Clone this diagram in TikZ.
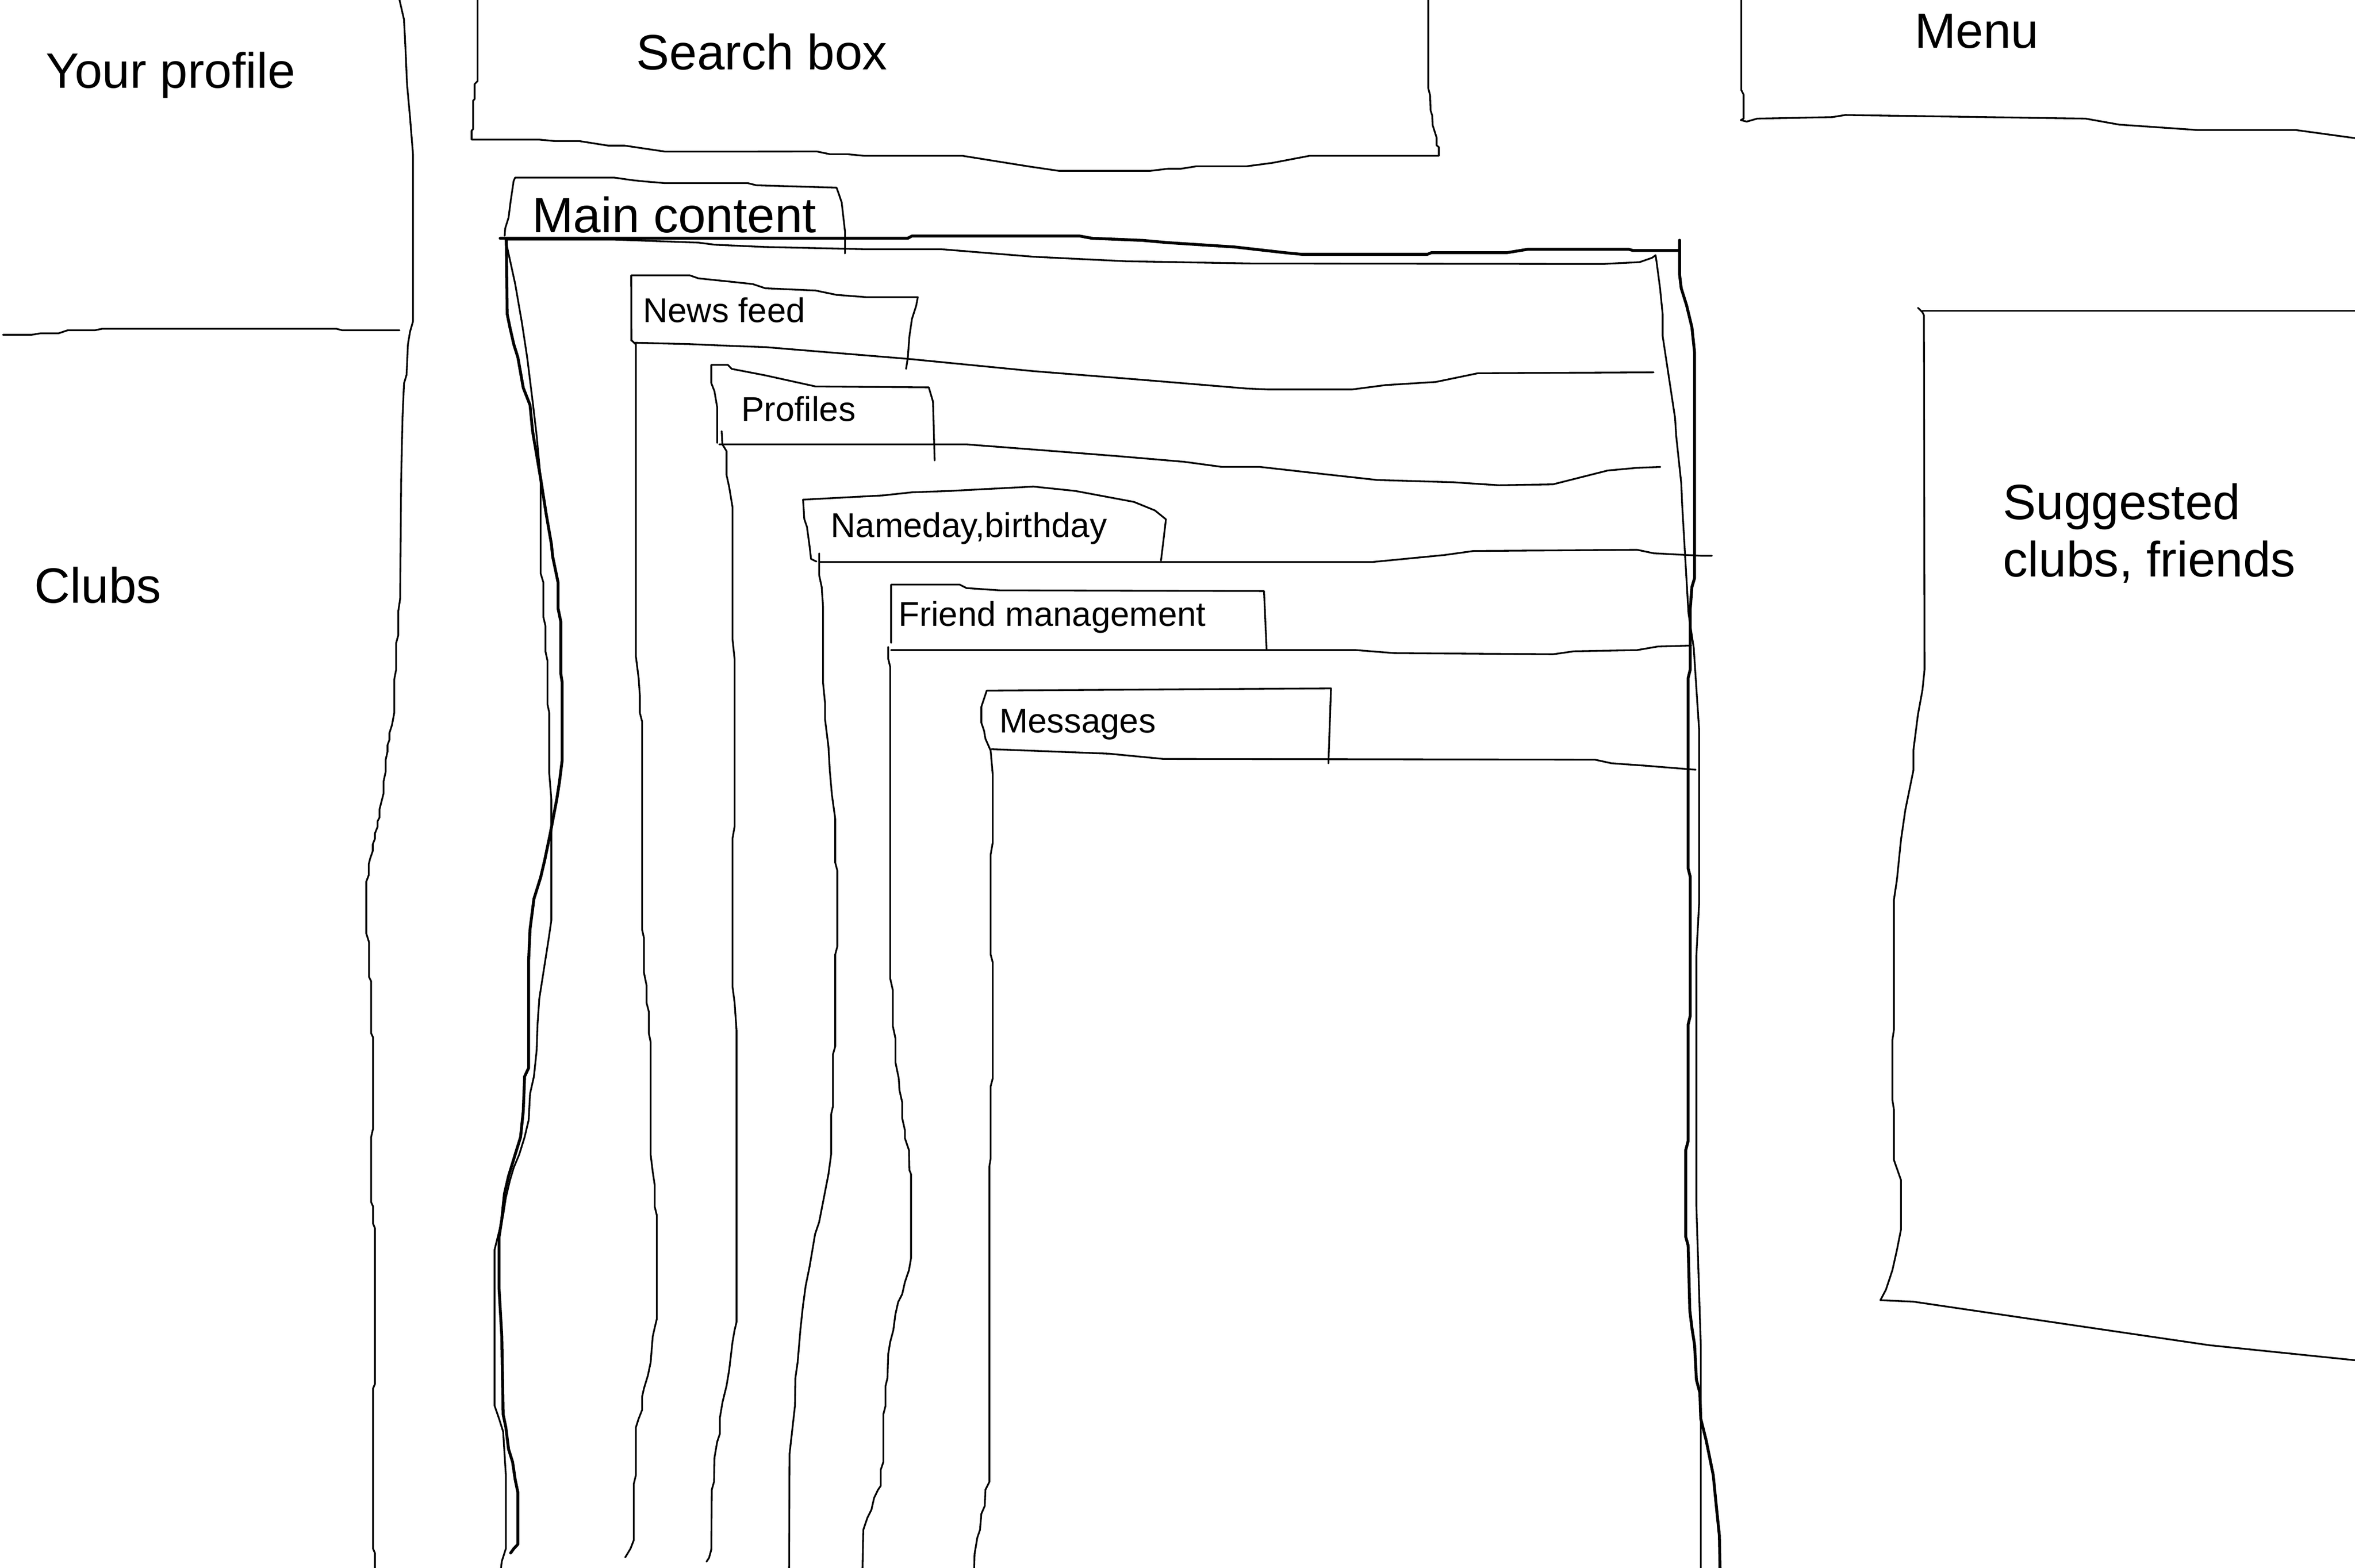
\documentclass[tikz,border=0pt]{standalone}
\usepackage{fontspec}
\setmainfont{Liberation Sans}
\newcommand\bigtxt{\fontsize{9.4}{10.8}\selectfont}
\newcommand\smalltxt{\fontsize{6.5}{7.8}\selectfont}
\begin{document}
\begin{tikzpicture}[x=0.01cm,y=-0.01cm,
  thinline/.style={line width=0.33pt,line join=round,line cap=round},
  thickline/.style={line width=0.55pt,line join=round,line cap=round},
  biglabel/.style={anchor=base west,inner sep=0pt,font=\bigtxt},
  smalllabel/.style={anchor=base west,inner sep=0pt,font=\smalltxt}]
\useasboundingbox (0,0) rectangle (1568,1044.4);

% ---------- Your profile / Clubs column ----------
\draw[thinline] (266,0) -- (269,13) -- (270,33) -- (271,56) -- (273,78) -- (275,103) -- (275,214) -- (273,221) -- (271.6,229.4) -- (270.7,249.6) -- (269,255.4) -- (268,278.5) -- (267.1,318.9) -- (266.4,399) -- (265.2,407) -- (265.2,423) -- (263.75,428.4) -- (263.75,446) -- (262.5,452.5) -- (262.5,474.8) -- (261,482.9) -- (259.3,488.2) -- (259.3,492.7) -- (258,496.3) -- (258,500.7) -- (256.8,506) -- (256.8,514) -- (255.4,520.4) -- (255.4,528.4) -- (252.7,539) -- (252.7,544.5) -- (251.4,547) -- (251.4,550.7) -- (249.6,555.2) -- (249.6,558.75) -- (248.2,562.3) -- (248.2,566.8) -- (246.4,572) -- (245.5,575.7) -- (245.5,582.9) -- (243.9,587.2) -- (243.9,621.8) -- (245.7,627.6) -- (245.7,650.7) -- (247.1,653.6) -- (247.1,688.2) -- (248.4,691) -- (248.4,751.7) -- (247.1,757.4) -- (247.1,800.7) -- (248.4,803.6) -- (248.4,815) -- (249.6,818) -- (249.6,921.9) -- (248.4,924.8) -- (248.4,1031.5) -- (249.6,1034.4) -- (249.6,1044.4);
\draw[thinline] (2,223) -- (21,223) -- (27,222) -- (39,222) -- (45,220) -- (63,220) -- (68,219) -- (224,219) -- (228,220) -- (266,220);

% ---------- Search box ----------
\draw[thinline] (318,0) -- (318,54) -- (316,56) -- (316,66) -- (315,67) -- (315,86) -- (314,87) -- (314,93) -- (359,93) -- (370,94) -- (386,94) -- (405,97) -- (416,97) -- (443,101) -- (543.9,100.9) -- (552.6,102.7) -- (564.2,102.7) -- (575.8,103.8) -- (641,103.8) -- (684.6,110.8) -- (705,113.8) -- (765.9,113.8) -- (777.5,112.4) -- (786.2,112.4) -- (796.3,110.8) -- (829.7,110.8) -- (847.1,108.5) -- (871.8,103.8) -- (958,103.8) -- (958,98) -- (956.5,96.8) -- (956.5,91.6) -- (953.9,83.4) -- (953.6,77) -- (952.5,73.5) -- (952.2,63.6) -- (951,58.9) -- (951,0);

% ---------- Menu ----------
\draw[thinline] (1159.4,0) -- (1159.4,60) -- (1160.9,63) -- (1160.9,79) -- (1159,80) -- (1163,81) -- (1170,79) -- (1220,78) -- (1228.6,76.6) -- (1388.6,79) -- (1411,83) -- (1463,86.6) -- (1528.6,86.6) -- (1568,92);

% ---------- Suggested clubs, friends ----------
\draw[thinline] (1277,205) -- (1280,208) -- (1281,210) -- (1281.4,446) -- (1280,459.6) -- (1277,476) -- (1274,499.5) -- (1274,513) -- (1268.6,539.5) -- (1265.7,559.5) -- (1263,586) -- (1261,599.4) -- (1261,686) -- (1260,692.7) -- (1260,732.6) -- (1261,739) -- (1261,772.6) -- (1265.7,786) -- (1265.7,819) -- (1263,832.6) -- (1260,846) -- (1255.7,859) -- (1252,866) -- (1274,867) -- (1403,886) -- (1471,896) -- (1568,906);
\draw[thinline] (1280,207) -- (1568,207);

% ---------- Main content ----------
% tab
\draw[thinline] (336,157) -- (336.4,152) -- (338.6,145) -- (340,134) -- (342,120.5) -- (343,118.3) -- (409,118.3) -- (421,120) -- (428.6,120.8) -- (443,122) -- (498,122) -- (503.6,123.4) -- (557,125) -- (558.4,128.9) -- (560.4,134.8) -- (562.6,154) -- (562.6,168.8);
% thick top line
\draw[thickline] (333,158.7) -- (604.4,158.7) -- (607.2,157.2) -- (718.8,157.2) -- (727,158.7) -- (760.7,160.1) -- (777.4,161.6) -- (822,164.5) -- (855.5,168.3) -- (866.7,169.4) -- (950.4,169.4) -- (953,168.3) -- (1003.4,168.3) -- (1017.4,166) -- (1084.3,166) -- (1087.1,166.8) -- (1117.8,166.8);
% thick outer right
\draw[thickline] (1118.3,160) -- (1118.3,183) -- (1119.4,192) -- (1123,203.5) -- (1126.5,218) -- (1128.3,235) -- (1128.3,385) -- (1126.5,391) -- (1125.4,405.4) -- (1125.4,446) -- (1124,451.6) -- (1124,578.5) -- (1125.4,584) -- (1125.4,676.6) -- (1124,682.4) -- (1124,760) -- (1122.4,766) -- (1122.4,823.8) -- (1124,829.6) -- (1125.1,872.8) -- (1126.5,884.4) -- (1128.3,896) -- (1129.5,919) -- (1131.8,927.7) -- (1132.4,945) -- (1136,959.4) -- (1140.7,982.5) -- (1143,1005.6) -- (1144.8,1022.9) -- (1145.2,1044.4);
% thick left
\draw[thickline] (337.1,160.2) -- (337.7,209.2) -- (339.5,218) -- (342.1,229.4) -- (344.8,238) -- (348.4,258.3) -- (352.9,269.8) -- (354.6,287.1) -- (360,318.9) -- (363.6,342) -- (367.1,362.2) -- (368,370.8) -- (371.6,388.1) -- (371.6,405.4) -- (373.4,414.1) -- (373.4,448.7) -- (374.3,454.5) -- (374.3,506.4) -- (372.5,520.8) -- (370.7,532.4) -- (366.3,555.5) -- (362.7,572.8) -- (360,584.3) -- (355.5,598.7) -- (352.9,619) -- (352,639.2) -- (352,711.3) -- (349.3,717) -- (348.4,740.1) -- (346.6,757.4) -- (343,769) -- (338.6,783.4) -- (335.9,795) -- (334.1,812.2) -- (332.3,823.8) -- (332.3,858.4) -- (334.1,890.2) -- (335,942) -- (336.8,950.7) -- (338.6,965.2) -- (341.3,973.8) -- (343,985.4) -- (344.8,994) -- (344.8,1028.6) -- (342.1,1031.5) -- (340,1034.4);
% thin left + thin top + thin inner right (one stroke)
\draw[thinline] (333.6,1044.4) -- (334.1,1040) -- (336.8,1031.5) -- (336.8,982.5) -- (335,953.6) -- (332.3,945) -- (329.3,936.3) -- (329.3,832.4) -- (335,809.4) -- (336.8,797.8) -- (339.5,786.3) -- (342.1,777.6) -- (345.7,769) -- (349.3,757.4) -- (352,746) -- (352.9,728.6) -- (355.5,717) -- (357.3,699.7) -- (357.9,682.4) -- (359.1,665) -- (361.8,647.8) -- (365.4,624.7) -- (367.1,613) -- (367.1,532.4) -- (365.7,515) -- (365.7,474.7) -- (364.5,469) -- (364.5,440) -- (363.2,434) -- (363.2,417) -- (361.8,411) -- (361.8,388) -- (360,382) -- (360,319) -- (357.3,290) -- (354.6,267) -- (351,238) -- (347.5,215) -- (343,189) -- (338.6,168.9) -- (336.6,159.6)
  -- (409,159.6) -- (465,161.6) -- (476,163) -- (509.5,164.5) -- (576.5,166) -- (626.7,166) -- (688,171) -- (749.5,174) -- (833,175.5) -- (1067.5,175.8) -- (1091.7,174.6) -- (1100,171.7) -- (1102.3,170)
  -- (1103,174.6) -- (1105.3,192) -- (1107,209) -- (1107,223.7) -- (1115.3,278.5) -- (1116,290) -- (1119.4,321.8) -- (1120,336) -- (1124.2,408.3) -- (1127.7,431.4) -- (1131.3,486) -- (1131.3,601.6) -- (1129.5,636.2) -- (1129.5,803.6) -- (1132.4,896) -- (1132.4,1044.4);

% ---------- News feed ----------
\draw[thinline] (420.4,227) -- (420.3,183.4) -- (459.3,183.4) -- (465,185.4) -- (487.2,187.7) -- (501.2,189.2) -- (509.5,192) -- (543,193.5) -- (557,196.4) -- (576.5,197.9) -- (611.1,197.9) -- (610,203.7) -- (607.2,212.4) -- (605.5,224) -- (604.4,238.5) -- (603.3,245.7);
\draw[thinline] (423,228.3) -- (459.3,229.2) -- (487.2,230.4) -- (509.5,231.2) -- (604.4,239) -- (688,247.2) -- (760.7,253) -- (830.4,258.8) -- (844.4,259.4) -- (900.2,259.4) -- (922.5,256.5) -- (956,254.4) -- (984,248.6) -- (1101,248);
\draw[thinline] (420.4,226.6) -- (423.4,229.4) -- (423.4,437.2) -- (425.2,451.6) -- (426,463) -- (426,474.7) -- (427.5,480.5) -- (427.5,619) -- (428.75,624.7) -- (428.75,647.8) -- (430.5,656.4) -- (430.5,668) -- (432,673.8) -- (432,688.2) -- (433.2,694) -- (433.2,769) -- (434.6,780.5) -- (435.9,789.2) -- (435.9,803.6) -- (437.3,809.4) -- (437.3,878.6) -- (435.9,884.4) -- (434.6,890.2) -- (433.2,907.5) -- (431.4,916.1) -- (428.75,924.8) -- (427.5,930.5) -- (427.5,939.2) -- (425.2,945) -- (423.4,950.7) -- (423.4,982.5) -- (422,988.3) -- (422,1025.8) -- (419.8,1031.5) -- (416.3,1037.3);

% ---------- Profiles ----------
\draw[thinline] (477.5,295) -- (477.5,271.2) -- (475.7,260.6) -- (473.6,255.2) -- (473.6,243) -- (484.6,243) -- (487.2,245.7) -- (509.5,250) -- (543,257.4) -- (618.4,258) -- (621.2,267.5) -- (622.3,306.7);
\draw[thinline] (478.9,296) -- (643.5,296) -- (688,299.4) -- (744,303.8) -- (788.6,307.6) -- (813.7,311) -- (839,311) -- (883.4,316) -- (917,319.7) -- (967.2,321.2) -- (998,323.2) -- (1034,322.6) -- (1051,318.3) -- (1070.4,313.4) -- (1090,311.6) -- (1105.5,311);
\draw[thinline] (480.5,287.2) -- (481,296) -- (483.75,300.5) -- (483.75,316.4) -- (485.5,324.4) -- (487.7,337.7) -- (487.7,425.5) -- (489.1,438.8) -- (489.1,550.6) -- (487.7,558.6) -- (487.7,657) -- (489.1,667.7) -- (490.4,686.3) -- (490.4,880.6) -- (489.1,886) -- (487.7,894) -- (485.5,912.5) -- (483.75,923) -- (481.1,933.8) -- (479.3,944.4) -- (479.3,955) -- (477.5,960.4) -- (475.7,971) -- (475.4,987) -- (473.9,992.3) -- (473.6,1032.2) -- (472.1,1037.6) -- (470.4,1040.2);

% ---------- Nameday, birthday ----------
\draw[thinline] (543.6,374) -- (540,372.3) -- (539.1,364.3) -- (537.3,351) -- (535.5,345.7) -- (534.7,332.8) -- (587.7,330) -- (607.2,327.9) -- (632.3,327) -- (688.1,324.1) -- (716,327) -- (755,334.3) -- (769,340) -- (776.3,345.9) -- (774.6,360.4) -- (773,373.4);
\draw[thinline] (545.8,374.3) -- (914.1,374.3) -- (961.6,369.7) -- (981.1,367) -- (1090,366.2) -- (1101,368.5) -- (1133,370.2) -- (1139.8,370.2);
\draw[thinline] (545.4,368.6) -- (545.4,383) -- (547.1,391) -- (548,404.2) -- (548,454.8) -- (549.3,468.1) -- (549.3,478.8) -- (551.6,497.4) -- (552.5,513.4) -- (553.9,529.3) -- (556.1,545.3) -- (556.1,574.5) -- (557.5,579.9) -- (557.5,630.4) -- (556.1,635.8) -- (556.1,697) -- (554.6,702.3) -- (554.6,736.9) -- (553.4,742.2) -- (553.4,768.8) -- (551.6,782.1) -- (545.4,814) -- (542.7,822) -- (540.9,832.7) -- (539.1,843.3) -- (536.4,856.6) -- (534.6,870) -- (532.9,885.9) -- (531.1,907.2) -- (529.6,917.8) -- (529.3,936.4) -- (527.5,952.4) -- (525.7,968.4) -- (525.4,1044.4);

% ---------- Friend management ----------
\draw[thinline] (593.3,428.2) -- (593.3,389.4) -- (639,389.4) -- (643.5,391.7) -- (665.8,393.2) -- (841.6,393.7) -- (843.3,432.3);
\draw[thinline] (593.3,433) -- (903,433) -- (928,435) -- (1034,435.8) -- (1048,433.8) -- (1090,433) -- (1104,430.6) -- (1126,430);
\draw[thinline] (591.4,430.9) -- (591.4,438.8) -- (592.7,444.2) -- (592.7,651.7) -- (594.5,659.7) -- (594.5,683.6) -- (596.2,691.6) -- (596.2,707.6) -- (598.4,718.2) -- (598.9,726.2) -- (600.7,734.2) -- (600.7,744.8) -- (602.5,752.8) -- (602.5,758.1) -- (605.2,766.1) -- (605.5,779.4) -- (606.6,782.1) -- (606.6,838) -- (605.2,846) -- (602.5,854) -- (600.7,862) -- (598,867.3) -- (596.2,875.3) -- (594.8,886) -- (592.7,893.9) -- (591.4,901.9) -- (590.9,917.8) -- (589.6,923.2) -- (589.6,936.4) -- (588.2,941.8) -- (588.2,973.7) -- (586.4,979) -- (586.4,989.7) -- (584.6,992.3) -- (582,997.7) -- (580.2,1005.6) -- (577.5,1011) -- (574.8,1019) -- (574.3,1044.4);

% ---------- Messages ----------
\draw[thinline] (659.6,500) -- (656.1,492) -- (655.2,486.7) -- (653.4,481.4) -- (653.4,470.8) -- (657,460) -- (886.2,458.5) -- (884.5,508.4);
\draw[thinline] (660.2,499) -- (738.3,502) -- (774.6,505.5) -- (1062,506) -- (1073,508.4) -- (1095.5,510) -- (1129,512.7);
\draw[thinline] (659.6,500) -- (661,516) -- (661,561.2) -- (659.6,569.2) -- (659.6,635.8) -- (661,641.1) -- (661,718.2) -- (659.6,723.6) -- (659.6,771.5) -- (658.75,776.8) -- (658.75,987) -- (656.1,992.3) -- (655.7,1003) -- (653.4,1008.3) -- (652.5,1019) -- (650.7,1024.2) -- (648.9,1035) -- (648.6,1044.4);

% ---------- Labels ----------
\node[biglabel] (yourprofile) at (30,58.5) {Your profile};
\node[biglabel] (searchbox) at (423,46.2) {Search box};
\node[biglabel] (menu) at (1274,32) {Menu};
\node[biglabel] (clubs) at (22.3,401.6) {Clubs};
\node[biglabel] (suggested) at (1333,346) {Suggested};
\node[biglabel] (suggested2) at (1333,384) {clubs, friends};
\node[biglabel] (maincontent) at (353.6,155) {Main content};
\node[smalllabel] (newsfeed) at (427.5,214.7) {News feed};
\node[smalllabel] (profiles) at (492.8,280.6) {Profiles};
\node[smalllabel] (nameday) at (552.5,358) {Nameday,birthday};
\node[smalllabel] (friendmgmt) at (597.7,417) {Friend management};
\node[smalllabel] (messages) at (664.7,488) {Messages};
\end{tikzpicture}
\end{document}
